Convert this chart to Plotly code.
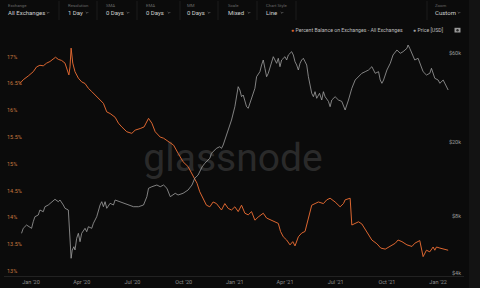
import plotly.graph_objects as go

# ---------------- data ----------------
pct_dates = [
    "2019-12-12", "2019-12-18", "2019-12-27", "2020-01-05", "2020-01-11", "2020-01-17",
    "2020-01-23", "2020-01-29", "2020-02-04", "2020-02-10", "2020-02-14", "2020-02-19",
    "2020-02-25", "2020-03-02", "2020-03-07", "2020-03-09", "2020-03-11", "2020-03-13",
    "2020-03-16", "2020-03-20", "2020-03-26", "2020-04-01", "2020-04-07", "2020-04-13",
    "2020-04-19", "2020-04-28", "2020-05-04", "2020-05-10", "2020-05-16", "2020-05-22",
    "2020-05-31", "2020-06-06", "2020-06-12", "2020-06-21", "2020-06-30", "2020-07-06",
    "2020-07-15", "2020-07-22", "2020-07-30", "2020-08-05", "2020-08-11", "2020-08-20",
    "2020-08-26", "2020-09-04", "2020-09-13", "2020-09-21", "2020-09-30", "2020-10-09",
    "2020-10-18", "2020-10-25", "2020-10-30", "2020-11-05", "2020-11-11", "2020-11-17",
    "2020-11-23", "2020-11-29", "2020-12-08", "2020-12-14", "2020-12-20", "2020-12-26",
    "2021-01-01", "2021-01-07", "2021-01-13", "2021-01-19", "2021-01-25", "2021-01-31",
    "2021-02-06", "2021-02-12", "2021-02-21", "2021-02-27", "2021-03-08", "2021-03-14",
    "2021-03-20", "2021-03-24", "2021-03-29", "2021-04-04", "2021-04-10", "2021-04-15",
    "2021-04-19", "2021-04-25", "2021-05-01", "2021-05-07", "2021-05-13", "2021-05-19",
    "2021-05-25", "2021-05-31", "2021-06-09", "2021-06-15", "2021-06-21", "2021-06-30",
    "2021-07-09", "2021-07-15", "2021-07-18", "2021-07-24", "2021-07-27", "2021-07-30",
    "2021-08-05", "2021-08-11", "2021-08-17", "2021-08-26", "2021-09-04", "2021-09-13",
    "2021-09-20", "2021-09-28", "2021-10-07", "2021-10-16", "2021-10-21", "2021-10-28",
    "2021-11-06", "2021-11-15", "2021-11-20", "2021-11-29", "2021-12-05", "2021-12-11",
    "2021-12-17", "2021-12-23", "2021-12-26", "2021-12-29", "2022-01-04", "2022-01-10",
    "2022-01-19",
]
pct_values = [
    16.50, 16.57, 16.64, 16.72, 16.81, 16.84,
    16.83, 16.88, 16.91, 16.95, 16.99, 16.95,
    16.93, 16.88, 16.72, 16.66, 16.81, 17.16,
    16.88, 16.72, 16.60, 16.53, 16.50, 16.41,
    16.35, 16.25, 16.19, 16.13, 15.97, 15.94,
    15.87, 15.76, 15.69, 15.60, 15.57, 15.63,
    15.66, 15.69, 15.85, 15.76, 15.60, 15.50,
    15.48, 15.42, 15.35, 15.20, 15.04, 14.95,
    14.76, 14.64, 14.48, 14.36, 14.23, 14.20,
    14.29, 14.26, 14.14, 14.26, 14.17, 14.14,
    14.20, 14.11, 14.23, 14.08, 14.05, 14.11,
    13.95, 14.01, 14.08, 13.99, 13.95, 13.92,
    13.89, 13.74, 13.64, 13.58, 13.49, 13.55,
    13.47, 13.64, 13.71, 13.74, 14.01, 14.23,
    14.26, 14.29, 14.26, 14.33, 14.36, 14.29,
    14.20, 14.26, 14.33, 14.36, 14.36, 13.86,
    13.89, 13.92, 13.88, 13.73, 13.58, 13.51,
    13.43, 13.41, 13.46, 13.52, 13.58, 13.55,
    13.49, 13.46, 13.52, 13.57, 13.27, 13.39,
    13.36, 13.45, 13.39, 13.45, 13.43, 13.41,
    13.39,
]

price_dates = [
    "2019-12-15", "2019-12-18", "2019-12-24", "2019-12-30", "2020-01-02", "2020-01-05",
    "2020-01-08", "2020-01-14", "2020-01-17", "2020-01-23", "2020-01-26", "2020-02-01",
    "2020-02-07", "2020-02-13", "2020-02-19", "2020-02-22", "2020-02-28", "2020-03-02",
    "2020-03-08", "2020-03-09", "2020-03-11", "2020-03-13", "2020-03-15", "2020-03-18",
    "2020-03-20", "2020-03-23", "2020-03-26", "2020-03-29", "2020-04-01", "2020-04-07",
    "2020-04-10", "2020-04-13", "2020-04-19", "2020-04-22", "2020-04-28", "2020-05-01",
    "2020-05-04", "2020-05-07", "2020-05-10", "2020-05-13", "2020-05-16", "2020-05-22",
    "2020-05-28", "2020-05-31", "2020-06-09", "2020-06-18", "2020-06-27", "2020-07-03",
    "2020-07-12", "2020-07-21", "2020-07-27", "2020-07-30", "2020-08-05", "2020-08-14",
    "2020-08-20", "2020-08-26", "2020-09-01", "2020-09-07", "2020-09-16", "2020-09-21",
    "2020-09-30", "2020-10-09", "2020-10-16", "2020-10-21", "2020-10-27", "2020-11-03",
    "2020-11-08", "2020-11-11", "2020-11-17", "2020-11-20", "2020-11-26", "2020-11-29",
    "2020-12-05", "2020-12-08", "2020-12-11", "2020-12-14", "2020-12-17", "2020-12-20",
    "2020-12-26", "2021-01-01", "2021-01-07", "2021-01-10", "2021-01-13", "2021-01-16",
    "2021-01-19", "2021-01-22", "2021-01-25", "2021-01-28", "2021-01-31", "2021-02-06",
    "2021-02-09", "2021-02-15", "2021-02-18", "2021-02-21", "2021-02-24", "2021-02-27",
    "2021-03-02", "2021-03-05", "2021-03-11", "2021-03-14", "2021-03-17", "2021-03-20",
    "2021-03-23", "2021-03-26", "2021-04-01", "2021-04-04", "2021-04-07", "2021-04-13",
    "2021-04-16", "2021-04-19", "2021-04-22", "2021-04-25", "2021-04-28", "2021-05-01",
    "2021-05-04", "2021-05-07", "2021-05-10", "2021-05-13", "2021-05-16", "2021-05-19",
    "2021-05-22", "2021-05-25", "2021-05-28", "2021-06-02", "2021-06-06", "2021-06-09",
    "2021-06-12", "2021-06-18", "2021-06-21", "2021-06-24", "2021-06-30", "2021-07-06",
    "2021-07-12", "2021-07-18", "2021-07-24", "2021-07-30", "2021-08-05", "2021-08-11",
    "2021-08-17", "2021-08-23", "2021-08-29", "2021-09-04", "2021-09-10", "2021-09-16",
    "2021-09-19", "2021-09-22", "2021-09-25", "2021-10-01", "2021-10-07", "2021-10-12",
    "2021-10-19", "2021-10-25", "2021-10-30", "2021-11-06", "2021-11-08", "2021-11-11",
    "2021-11-15", "2021-11-17", "2021-11-20", "2021-11-26", "2021-11-29", "2021-12-02",
    "2021-12-05", "2021-12-11", "2021-12-17", "2021-12-20", "2021-12-23", "2021-12-26",
    "2022-01-01", "2022-01-04", "2022-01-10", "2022-01-13", "2022-01-16", "2022-01-19",
]
price_values = [
    6501, 6914, 7202, 7053, 6914, 7502,
    7980, 8150, 8669, 8489, 9029, 9221,
    9605, 9894, 9605, 9808, 9221, 8853,
    8669, 7502, 6234, 4776, 5291, 5511,
    5291, 6113, 6501, 5861, 6501, 6914,
    6631, 7053, 6914, 7355, 7980, 8669,
    9221, 9605, 9029, 9605, 8853, 9417,
    9221, 9808, 9605, 9417, 9221, 9029,
    9029, 9221, 10218, 11332, 11557, 11803,
    11557, 11803, 11332, 10218, 10654, 10432,
    10654, 11095, 11803, 12821, 13354, 14741,
    15428, 15737, 16412, 17457, 18182, 18568,
    18940, 18568, 19342, 20573, 22346, 23277,
    26336, 31034, 39725, 38141, 35112, 35857,
    33708, 31034, 30427, 32365, 35112, 38950,
    44946, 47807, 51932, 55238, 49856, 44946,
    46873, 49856, 57532, 55238, 53029, 56410,
    50853, 55238, 57532, 55238, 58753, 61197,
    58753, 54090, 51932, 48820, 53029, 55238,
    56410, 54090, 51932, 44946, 39725, 36619,
    35112, 37348, 34425, 36619, 33708, 37348,
    35112, 33131, 31034, 33708, 35112, 33708,
    33131, 29795, 33708, 38950, 43153, 44946,
    46873, 47807, 48820, 50853, 46873, 47807,
    43153, 41429, 43153, 48820, 53029, 58753,
    62494, 60000, 61197, 63818, 66474, 63818,
    60000, 57532, 55238, 56410, 53029, 50853,
    47807, 45898, 46873, 49856, 46873, 44066,
    43153, 41429, 43153, 41429, 39725, 38141,
]

x_tick_dates = ["2020-01-01", "2020-04-01", "2020-07-01", "2020-10-01", "2021-01-01",
                "2021-04-01", "2021-07-01", "2021-10-01", "2022-01-01"]
x_tick_labels = ["Jan '20", "Apr '20", "Jul '20", "Oct '20", "Jan '21",
                 "Apr '21", "Jul '21", "Oct '21", "Jan '22"]
pct_ticks = [13, 13.5, 14, 14.5, 15, 15.5, 16, 16.5, 17]
pct_tick_labels = ["13%", "13.5%", "14%", "14.5%", "15%", "15.5%", "16%", "16.5%", "17%"]
price_ticks = [4000, 8000, 20000, 60000]
price_tick_labels = ["$4k", "$8k", "$20k", "$60k"]

series_names = ["Percent Balance on Exchanges - All Exchanges", "Price [USD]"]

toolbar_labels = ["Exchange", "Resolution", "SMA", "EMA", "MM", "Scale", "Chart Style", "Zoom"]
toolbar_values = ["All Exchanges", "1 Day", "0 Days", "0 Days", "0 Days", "Mixed", "Line", "Custom"]

# ---------------- styling ----------------
W, H = 480, 288
ML, MR, MT, MB = 4, 16, 38, 12
PW, PH = W - ML - MR, H - MT - MB
BG = "#0b0b0b"
ORANGE = "#dc6630"
GRAY = "#a0a0a0"
FONT = "Roboto, Liberation Sans, Arial, sans-serif"


def px(x):
    return (x - ML) / PW


def py(y):
    return (H - MB - y) / PH


fig = go.Figure()
fig.add_trace(go.Scatter(x=pct_dates, y=pct_values, name=series_names[0], mode="lines",
                         line=dict(color=ORANGE, width=1), yaxis="y"))
fig.add_trace(go.Scatter(x=price_dates, y=price_values, name=series_names[1], mode="lines",
                         line=dict(color=GRAY, width=0.8), yaxis="y2"))

fig.update_layout(
    width=W, height=H,
    margin=dict(l=ML, r=MR, t=MT, b=MB),
    paper_bgcolor=BG, plot_bgcolor=BG,
    showlegend=False,
    font=dict(family=FONT, color="#8a8a8a", size=5.5),
    xaxis=dict(type="date", range=["2019-11-13 12:00", "2022-02-16 10:00"],
               tickvals=x_tick_dates, ticktext=x_tick_labels, ticks="",
               showgrid=False, zeroline=False, showline=True, linecolor="#222222", linewidth=1,
               tickfont=dict(size=5.5, color="#8c8c8c")),
    yaxis=dict(range=[12.909, 17.349], tickvals=pct_ticks, ticktext=pct_tick_labels,
               ticklabelposition="inside", ticks="", showgrid=False, zeroline=False,
               tickfont=dict(size=5.5, color="#c7783f")),
    yaxis2=dict(type="log", range=[3.5841, 4.8602], overlaying="y", side="right",
                tickvals=price_ticks, ticktext=price_tick_labels,
                ticklabelposition="inside", ticks="", showgrid=False, zeroline=False,
                tickfont=dict(size=5.5, color="#9a9a9a")),
)

shapes = []
annotations = []

# right side strip
shapes.append(dict(type="rect", xref="paper", yref="paper", x0=px(469), x1=px(481),
                   y0=py(H + 1), y1=py(-1), fillcolor="#131313", line=dict(width=0), layer="below"))

# watermark (below traces)
shapes.append(dict(type="rect", xref="paper", yref="paper", x0=px(133), x1=px(333),
                   y0=py(175), y1=py(135), fillcolor="rgba(0,0,0,0)", line=dict(width=0),
                   layer="below",
                   label=dict(text="glassnode", textposition="middle center",
                              font=dict(size=39, color="#2a2a2a", family="Roboto, sans-serif"))))

# toolbar
tool_x = [6, 66, 104, 144, 185, 226, 264, 433]
chev_x = [48, 87, 128, 169, 209, 249, 282, 459]
for lab, val, tx, cx in zip(toolbar_labels, toolbar_values, tool_x, chev_x):
    annotations.append(dict(text=lab, x=px(tx), y=py(5), xref="paper", yref="paper",
                            xanchor="left", yanchor="middle", showarrow=False,
                            font=dict(size=4.3, color="#6a6a6a", family=FONT)))
    annotations.append(dict(text=val, x=px(tx), y=py(12.7), xref="paper", yref="paper",
                            xanchor="left", yanchor="middle", showarrow=False,
                            font=dict(size=6, color="#cfcfcf", family=FONT)))
    shapes.append(dict(type="path", xref="paper", yref="paper",
                       path=f"M {px(cx - 1.3)},{py(12)} L {px(cx)},{py(13.3)} L {px(cx + 1.3)},{py(12)}",
                       line=dict(color="#8a8a8a", width=0.6)))
for dx in [59, 97, 137, 180, 218, 257, 296, 427]:
    shapes.append(dict(type="line", xref="paper", yref="paper", x0=px(dx), x1=px(dx),
                       y0=py(1), y1=py(20), line=dict(color="#1d1d1d", width=1)))

# legend
legend_x = [289, 411]
legend_colors = [ORANGE, GRAY]
for name, lx, col in zip(series_names, legend_x, legend_colors):
    annotations.append(dict(text=f"<span style='color:{col}'>●</span> {name}",
                            x=px(lx), y=py(30), xref="paper", yref="paper",
                            xanchor="left", yanchor="middle", showarrow=False,
                            font=dict(size=5.2, color="#bdbdbd", family=FONT)))
# camera icon
shapes.append(dict(type="rect", xref="paper", yref="paper", x0=px(454.5), x1=px(460.5),
                   y0=py(32.5), y1=py(27.8), fillcolor="#9a9a9a", line=dict(width=0)))
shapes.append(dict(type="circle", xref="paper", yref="paper", x0=px(456.3), x1=px(458.7),
                   y0=py(31.5), y1=py(29.0), fillcolor="#2a2a2a", line=dict(width=0)))

fig.update_layout(shapes=shapes, annotations=annotations)
fig.write_html("out.html")
